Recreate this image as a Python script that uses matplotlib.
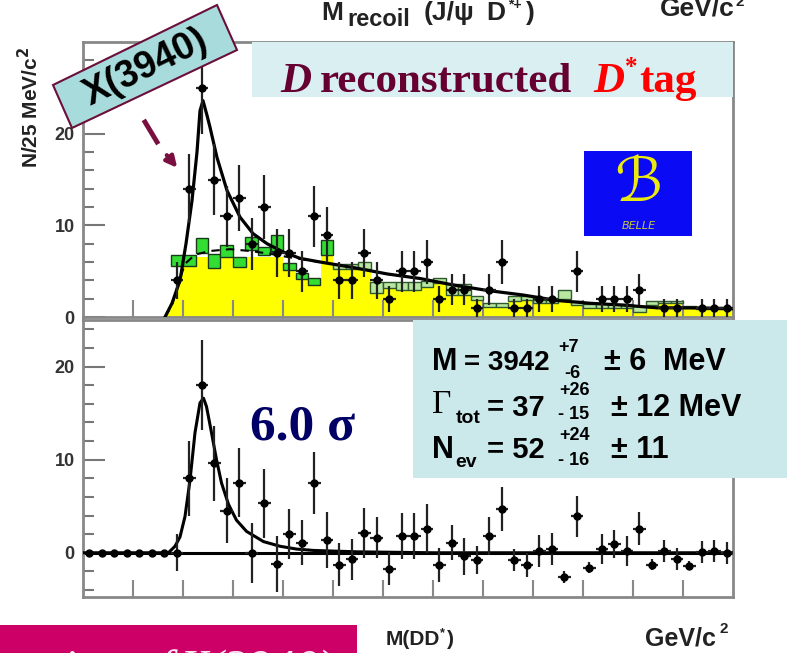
import numpy as np
import matplotlib
matplotlib.use("Agg")
import matplotlib.pyplot as plt
from matplotlib.patches import Rectangle, Polygon, FancyArrowPatch
from matplotlib.lines import Line2D

W, H = 787, 653

# ---------------- data ----------------
edges = np.linspace(3.70, 5.00, 53)          # 25 MeV bins
centers = 0.5 * (edges[:-1] + edges[1:])

# top panel: D reconstructed, D* tag (counts / 25 MeV)
top_counts = [0, 0, 0, 0, 0, 0, 0, 4, 14, 25, 15, 11, 13, 8, 12, 7, 7, 5, 11, 9,
              4, 4, 7, 4, 2, 5, 5, 6, 2, 3, 3, 1, 3, 6, 1, 1, 2, 2, 0, 5,
              0, 2, 2, 2, 3, 0, 1, 1, 0, 1, 1, 1]

# yellow background histogram
yellow_bkg = [0, 0, 0, 0, 0, 0, 6.5, 6.5, 6.5, 6.5, 6.5, 6.5, 6.5, 6.5, 6.5, 6.5, 5.1, 4.2, 3.5, 7.5,
              5.8, 5.8, 5.2, 3.8, 3.8, 3.3, 3.3, 3.3, 3.8, 2.9, 2.9, 2.0, 1.1, 1.1, 1.8, 2.0, 1.5, 1.5, 2.8, 1.3,
              1.1, 1.0, 1.0, 1.0, 0.7, 1.3, 1.5, 1.5, 1.0, 0.9, 0.9, 0.9]

# green background histogram (value and half band)
green_bkg = [0, 0, 0, 0, 0, 0, 0, 6.2, 6.2, 7.8, 6.1, 7.2, 6.0, 8.0, 7.2, 8.1, 5.5, 4.5, 3.9, 7.6,
             5.5, 5.5, 5.6, 3.2, 3.5, 3.4, 3.4, 3.6, 4.0, 3.0, 3.0, 2.1, 1.3, 1.3, 2.0, 2.1, 1.7, 1.7, 2.5, 1.5,
             1.2, 1.2, 1.2, 1.2, 0.9, 1.5, 1.6, 1.6, 1.1, 1.0, 1.0, 1.0]
green_band = [0, 0, 0, 0, 0, 0, 0, 0.6, 0.6, 0.8, 0.8, 0.7, 0.5, 0.7, 0.4, 0.9, 0.4, 0.3, 0.4, 0.8,
              0.3, 0.3, 0.4, 0.6, 0.3, 0.4, 0.4, 0.3, 0.3, 0.6, 0.6, 0.2, 0.2, 0.2, 0.3, 0.2, 0.2, 0.2, 0.5, 0.2,
              0.2, 0.2, 0.2, 0.2, 0.3, 0.2, 0.1, 0.1, 0.1, 0.1, 0.1, 0.1]

# total fit curve (top)
fit_m = [3.864, 3.878, 3.894, 3.906, 3.918, 3.928, 3.934, 3.940, 3.948, 3.954, 3.968, 3.988,
         4.014, 4.040, 4.068, 4.100, 4.134, 4.174, 4.240, 4.308, 4.374, 4.440, 4.508, 4.580,
         4.648, 4.714, 4.780, 4.848, 4.914, 5.000]
fit_v = [0.0, 1.5, 4.0, 8.0, 12.7, 18.0, 22.5, 23.6, 22.0, 20.7, 17.4, 13.8,
         10.9, 9.1, 8.0, 7.1, 6.4, 6.0, 5.4, 4.7, 4.2, 3.5, 2.9, 2.4,
         1.8, 1.5, 1.3, 1.0, 1.0, 0.9]

# background part of the fit (dashed)
bkg_m = [3.864, 3.878, 3.890, 3.904, 3.924, 3.954, 3.994, 4.034, 4.074, 4.114, 4.174]
bkg_v = [0.0, 1.3, 3.5, 5.8, 6.8, 7.2, 7.4, 7.2, 6.9, 6.5, 6.0]

# bottom panel: background subtracted
sub_vals = [0, 0, 0, 0, 0, 0, 0, 0.0, 8.0, 18.0, 9.6, 4.5, 7.5, 0.0, 5.3, -1.2, 2.0, 1.1, 7.5, 1.4,
            -1.3, -0.7, 2.1, 1.6, -1.7, 1.8, 1.8, 2.6, -1.3, 1.1, -0.4, -0.8, 1.8, 4.7, -0.8, -1.3, 0.2, 0.4, -2.6, 3.9,
            -1.6, 0.4, 0.9, 0.2, 2.6, -1.3, 0.2, -0.7, -1.4, 0.1, 0.2, 0.0]
sub_errs = [0, 0, 0, 0, 0, 0, 0, 2.0, 4.0, 4.8, 4.0, 3.5, 3.7, 3.2, 3.7, 3.0, 2.7, 2.4, 3.3, 3.0,
            2.3, 2.2, 2.7, 2.2, 1.8, 2.5, 2.5, 2.6, 1.8, 1.9, 2.0, 1.5, 2.0, 2.4, 1.2, 1.3, 1.7, 1.7, 0.6, 2.2,
            0.6, 1.6, 1.5, 1.6, 1.8, 0.6, 1.2, 1.2, 0.5, 1.2, 1.2, 1.2]

# signal curve (bottom)
sig_m = [3.700, 3.8707, 3.884, 3.894, 3.904, 3.914, 3.924, 3.934, 3.941, 3.947, 3.957, 3.967,
         3.977, 3.991, 4.007, 4.027, 4.061, 4.094, 4.127, 4.161, 4.25, 4.40, 5.00]
sig_v = [0, 0, 0.7, 1.7, 3.9, 7.8, 12.9, 16.1, 16.6, 15.7, 12.9, 10.0,
         7.5, 5.2, 3.5, 2.3, 1.2, 0.7, 0.4, 0.25, 0.1, 0.0, 0.0]

# ---------------- figure ----------------
fig = plt.figure(figsize=(W / 100, H / 100), dpi=100)
fig.patch.set_facecolor("white")

def P(x, y):
    return (x / W, 1 - y / H)

ax1 = fig.add_axes([83 / W, 1 - 317 / H, 650 / W, 275 / H])
ax2 = fig.add_axes([83 / W, 1 - 597 / H, 650 / W, 277 / H])

tickfont = dict(family="Liberation Sans", weight="bold", size=13, color="#333333")
for ax in (ax1, ax2):
    ax.set_xlim(3.70, 5.00)
    for s in ax.spines.values():
        s.set_color("#888888")
        s.set_linewidth(2)
    ax.set_xticks(np.arange(3.8, 4.95, 0.1))
    ax.set_xticklabels([])
    ax.set_yticks([0, 10, 20])
    ax.set_yticklabels(["0", "10", "20"], fontdict=tickfont)
    ax.tick_params(axis="y", which="major", direction="in", length=16, width=1.5,
                   color="#777777", pad=6, right=False)
    ax.tick_params(axis="y", which="minor", direction="in", length=8, width=1.5,
                   color="#777777", right=False)
    ax.tick_params(axis="x", which="major", direction="in", length=12, width=1.5,
                   color="#888888", top=False)

ax1.set_ylim(0, 30)
ax1.set_yticks(np.arange(0, 30, 2), minor=True)
ax2.set_ylim(-4.75, 25)
ax2.set_yticks(np.arange(-4, 25, 2), minor=True)

# --- top panel ---
yst = ax1.stairs(yellow_bkg, edges, fill=True, color="#ffff00", zorder=1)
clip_verts = [(m, v) for m, v in zip(fit_m, fit_v) if m <= 3.906]
clip_verts += [(3.906, 31), (5.1, 31), (5.1, -1), (fit_m[0], -1)]
clip_poly = Polygon(clip_verts, closed=True, transform=ax1.transData)
yst.set_clip_path(clip_poly)

gb = np.array(green_bkg)
gw = np.array(green_band)
mask_e = (gb > 0) & (centers < 4.2)
mask_l = (gb > 0) & (centers >= 4.2)
ax1.bar(centers[mask_e], 2 * gw[mask_e], bottom=gb[mask_e] - gw[mask_e], width=0.025,
        color="#33dd33", edgecolor="#1a3a1a", linewidth=1.0, zorder=2)
ax1.bar(centers[mask_l], 2 * gw[mask_l], bottom=gb[mask_l] - gw[mask_l], width=0.025,
        color="#b9e6a0", edgecolor="#2f5a2f", linewidth=1.0, zorder=2)

ax1.plot(bkg_m, bkg_v, color="black", lw=1.5, ls=(0, (4, 3)), zorder=3)
ax1.plot(fit_m, fit_v, color="black", lw=2.3, zorder=3)

tc = np.array(top_counts, dtype=float)
mk = tc > 0
ax1.errorbar(centers[mk], tc[mk], yerr=np.sqrt(tc[mk]), xerr=0.0125, fmt="o", ms=5,
             color="black", ecolor="#222222", elinewidth=1.6, capsize=0, zorder=4)

# --- bottom panel ---
ax2.axhline(0, color="black", lw=2.2, zorder=2)
ax2.plot(sig_m, sig_v, color="black", lw=2.2, zorder=3)
sv = np.array(sub_vals)
se = np.array(sub_errs)
ax2.errorbar(centers, sv, yerr=se, xerr=np.where(se > 0, 0.0125, 0.0), fmt="o", ms=5,
             color="black", ecolor="#222222", elinewidth=1.6, capsize=0, zorder=4)

# ---------------- overlays ----------------
# top banner
fig.add_artist(Rectangle(P(252, 97), 481 / W, 55 / H, transform=fig.transFigure,
                         facecolor="#d9eff1", edgecolor="none", zorder=5))
serif = "Liberation Serif"
fig.text(*P(280, 92), "D", family=serif, style="italic", weight="bold", size=31,
         color="#660033", zorder=6)
fig.text(*P(320, 92), "reconstructed", family=serif, weight="bold", size=31,
         color="#660033", zorder=6)
fig.text(*P(593, 92), "D", family=serif, style="italic", weight="bold", size=31,
         color="#ff0000", zorder=6)
fig.text(*P(625, 74), "*", family=serif, weight="bold", size=18, color="#ff0000", zorder=6)
fig.text(*P(639, 92), "tag", family=serif, weight="bold", size=31, color="#ff0000", zorder=6)

# X(3940) tilted label
fig.add_artist(Polygon([P(53, 85), P(217, 5), P(237, 50), P(72, 128)], closed=True,
                       transform=fig.transFigure, facecolor="#a8dcdc",
                       edgecolor="#6b0f3a", linewidth=1.5, zorder=7))
fig.text(*P(146, 68), "X(3940)", family="Liberation Sans", weight="bold", size=27,
         rotation=26, rotation_mode="anchor", ha="center", va="center",
         color="black", zorder=8)

# dashed arrow
fig.add_artist(Line2D([145 / W, 157 / W], [1 - 122 / H, 1 - 142 / H],
                      transform=fig.transFigure, color="#7a1040", lw=3.5, zorder=8))
fig.add_artist(FancyArrowPatch(P(165, 153), P(179, 170), transform=fig.transFigure,
                               arrowstyle="-|>", mutation_scale=16, color="#7a1040",
                               lw=3, zorder=8))

# Belle logo
fig.add_artist(Rectangle(P(584, 236), 108 / W, 85 / H, transform=fig.transFigure,
                         facecolor="#0a0af5", edgecolor="none", zorder=6))
fig.text(*P(638, 184), "\u212C", family="DejaVu Sans", size=44, color="#eaea10",
         ha="center", va="center", zorder=7)
fig.text(*P(639, 226), "BELLE", family="DejaVu Sans", style="italic", size=8,
         color="#c8c83c", ha="center", va="center", zorder=7)

# axis titles
lab = dict(family="Liberation Sans", weight="bold", color="#222222")
fig.text(*P(30, 107), "N/25 MeV/c$^{\\mathbf{2}}$", rotation=90, ha="center", va="center",
         size=15, **lab)
fig.text(*P(321, 20), "M", size=19, **lab)
fig.text(*P(347, 26), "recoil", size=17, **lab)
fig.text(*P(424, 20), "(J/\u03c8", size=19, **lab)
fig.text(*P(486, 20), "D", size=19, **lab)
fig.text(*P(508, 9), "*+", size=10, **lab)
fig.text(*P(526, 20), ")", size=19, **lab)
fig.text(*P(660, 16), "GeV/c", size=19, **lab)
fig.text(*P(736, 6), "2", size=11, **lab)

fig.text(*P(386, 645), "M(DD", size=15, **lab)
fig.text(*P(440, 636), "*", size=9, **lab)
fig.text(*P(447, 645), ")", size=15, **lab)
fig.text(*P(645, 645), "GeV/c", size=18, **lab)
fig.text(*P(719, 633), "2", size=11, **lab)

# 6.0 sigma
fig.text(*P(250, 440), "6.0 \u03c3", family=serif, weight="bold", size=37,
         color="#000066", zorder=6)

# parameter box
fig.add_artist(Rectangle(P(413, 478), 374 / W, 158 / H, transform=fig.transFigure,
                         facecolor="#cbe8eb", edgecolor="none", zorder=5))
pb = dict(family="Liberation Sans", weight="bold", color="black", zorder=6)
fig.text(*P(432, 370), "M", size=22, **pb)
fig.text(*P(464, 370), "= 3942", size=20, **pb)
fig.text(*P(558, 352), "+7", size=13, **pb)
fig.text(*P(564, 378), "-6", size=13, **pb)
fig.text(*P(604, 370), "\u00b1 6", size=22, **pb)
fig.text(*P(663, 370), "MeV", size=22, **pb)

fig.text(*P(432, 413), "\u0393", family=serif, size=24, color="black", zorder=6)
fig.text(*P(456, 423), "tot", size=14, **pb)
fig.text(*P(487, 416), "= 37", size=21, **pb)
fig.text(*P(559, 395), "+26", size=13, **pb)
fig.text(*P(558, 419), "- 15", size=13, **pb)
fig.text(*P(611, 416), "\u00b1 12 MeV", size=22, **pb)

fig.text(*P(432, 458), "N", size=22, **pb)
fig.text(*P(455, 467), "ev", size=14, **pb)
fig.text(*P(487, 458), "= 52", size=21, **pb)
fig.text(*P(559, 440), "+24", size=13, **pb)
fig.text(*P(558, 465), "- 16", size=13, **pb)
fig.text(*P(611, 458), "\u00b1 11", size=22, **pb)

# magenta banner at the bottom
fig.add_artist(Rectangle(P(0, 653), 357 / W, 28 / H, transform=fig.transFigure,
                         facecolor="#cc0066", edgecolor="none", zorder=5))
fig.text(*P(172, 682), "Observation of", family=serif, style="italic", size=34,
         color="#ffe6f2", ha="right", zorder=6)
fig.text(*P(180, 682), "X(3940)", family=serif, style="italic", size=34,
         color="#ffe6f2", ha="left", zorder=6)

fig.savefig("out.png", dpi=100)
